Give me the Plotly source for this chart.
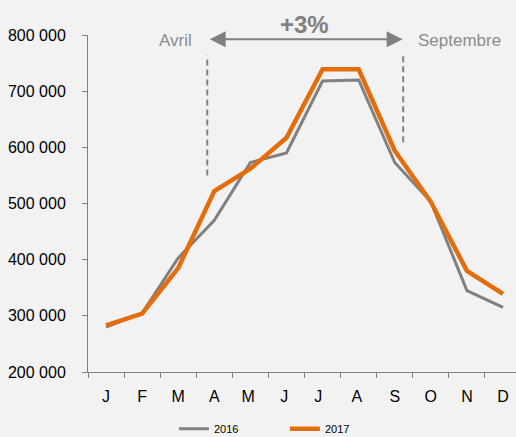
import plotly.graph_objects as go

months = ["J", "F", "M", "A", "M ", "J ", "J  ", "A ", "S", "O", "N", "D"]
values_2016 = [280000, 305000, 403000, 470000, 573000, 590000, 718000, 720000, 573000, 503000, 345000, 315000]
values_2017 = [283000, 304000, 385000, 522000, 562000, 617000, 739000, 739000, 594000, 503000, 380000, 339000]
y_ticks = [200000, 300000, 400000, 500000, 600000, 700000, 800000]
y_tick_labels = ["200 000", "300 000", "400 000", "500 000", "600 000", "700 000", "800 000"]

GRAY = "#808080"
ORANGE = "#E46C0A"
FONT = "Liberation Sans, Arial, sans-serif"

fig = go.Figure()
fig.add_trace(go.Scatter(x=months, y=values_2016, mode="lines", name="2016",
                         line=dict(color=GRAY, width=3)))
fig.add_trace(go.Scatter(x=months, y=values_2017, mode="lines", name="2017",
                         line=dict(color=ORANGE, width=4.5)))

fig.update_layout(
    width=516, height=437,
    margin=dict(l=88, r=0, t=35, b=65),
    paper_bgcolor="#F2F2F2", plot_bgcolor="#F2F2F2",
    font=dict(family=FONT, size=16, color="#000000"),
    showlegend=True,
    legend=dict(orientation="h", x=0.337, xanchor="left", xref="container",
                y=0.052, yanchor="top", yref="container",
                font=dict(family=FONT, size=11, color="#000000"),
                bgcolor="rgba(0,0,0,0)", entrywidth=66),
    xaxis=dict(type="category", range=[-0.5, 11.36], showgrid=False, zeroline=False,
               showline=True, linecolor=GRAY, linewidth=1, automargin=False,
               ticks="outside", ticklen=5, tickcolor=GRAY, tickson="boundaries",
               ticklabelstandoff=10, tickfont=dict(size=16)),
    yaxis=dict(range=[200000, 800000], tickvals=y_ticks, ticktext=y_tick_labels,
               showgrid=False, zeroline=False, showline=True, linecolor=GRAY, linewidth=1,
               ticks="outside", ticklen=5, tickcolor=GRAY, ticklabelstandoff=13,
               automargin=False, tickfont=dict(size=16)),
)

# dashed vertical markers
fig.add_shape(type="line", xref="x", yref="y", x0=2.805, x1=2.805, y0=550000, y1=764000,
              line=dict(color=GRAY, width=2, dash="6px,4px"))
fig.add_shape(type="line", xref="x", yref="y", x0=8.234, x1=8.234, y0=609000, y1=764000,
              line=dict(color=GRAY, width=2, dash="6px,4px"))

# double arrow
fig.add_annotation(x=8.22, y=792500, ax=2.83, ay=792500, xref="x", yref="y",
                   axref="x", ayref="y", text="", showarrow=True,
                   arrowhead=2, arrowside="end+start", arrowsize=1.6, arrowwidth=2,
                   arrowcolor=GRAY, standoff=0, startstandoff=0)

fig.add_annotation(x=5.5, y=1.031, xref="x", yref="paper", text="<b>+3%</b>",
                   yanchor="middle", showarrow=False,
                   font=dict(family=FONT, size=24, color="#7F7F7F"))
fig.add_annotation(x=2.45, y=0.985, xref="x", yref="paper", text="Avril", xanchor="right",
                   yanchor="middle", showarrow=False,
                   font=dict(family=FONT, size=17, color="#8C8C8C"))
fig.add_annotation(x=8.59, y=0.985, xref="x", yref="paper", text="Septembre", xanchor="left",
                   yanchor="middle", showarrow=False,
                   font=dict(family=FONT, size=17, color="#8C8C8C"))

fig.write_html("out.html", config={"displayModeBar": False},
               post_script="document.body.style.margin='0';document.body.style.background='#F2F2F2';")
